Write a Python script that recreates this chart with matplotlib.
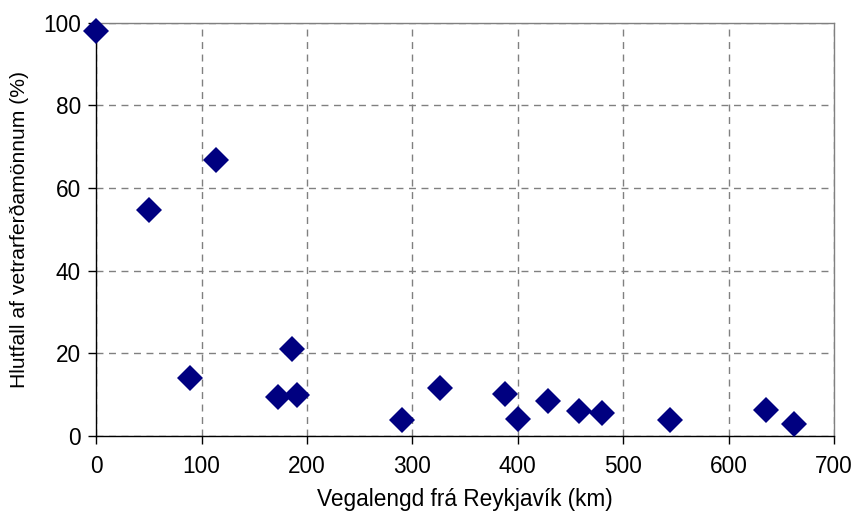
import matplotlib
matplotlib.use("Agg")
import matplotlib.pyplot as plt

# fjarlægð frá Reykjavík (km) og hlutfall vetrarferðamanna (%)
distance_km = [0, 50, 114, 89, 172, 186, 190, 290, 326, 388, 400, 429, 458, 480, 544, 635, 662]
share_pct = [98, 54.6, 66.7, 14.0, 9.3, 20.9, 9.9, 3.9, 11.6, 10.0, 4.0, 8.3, 5.9, 5.6, 3.8, 6.2, 2.8]

x_ticks = [0, 100, 200, 300, 400, 500, 600, 700]
y_ticks = [0, 20, 40, 60, 80, 100]

plt.rcParams['font.family'] = ['Liberation Sans', 'DejaVu Sans']

fig = plt.figure(figsize=(8.56, 5.14), dpi=100)
ax = fig.add_axes([0.1125, 0.1523, 0.8618, 0.8035])

ax.plot(distance_km, share_pct, linestyle='none', marker='D', markersize=13,
        color='#000080', markeredgewidth=0, clip_on=False, zorder=5)

ax.set_xlim(0, 700)
ax.set_ylim(0, 100)
ax.set_xticks(x_ticks)
ax.set_yticks(y_ticks)

ax.grid(True, color='#808080', linestyle=(0, (5, 4)), linewidth=1)
ax.set_axisbelow(True)

for side in ['top', 'right']:
    ax.spines[side].set_color('#808080')
    ax.spines[side].set_linewidth(1)
for side in ['left', 'bottom']:
    ax.spines[side].set_color('black')
    ax.spines[side].set_linewidth(1)

ax.tick_params(direction='out', length=6, width=1, labelsize=16.3, colors='black', pad=5)
ax.tick_params(axis='x', pad=8)

ax.set_xlabel('Vegalengd frá Reykjavík (km)', fontsize=16.3, labelpad=7)
ax.set_ylabel('Hlutfall af vetrarferðamönnum (%)', fontsize=15.2, labelpad=10)

fig.savefig('out.png', dpi=100)
